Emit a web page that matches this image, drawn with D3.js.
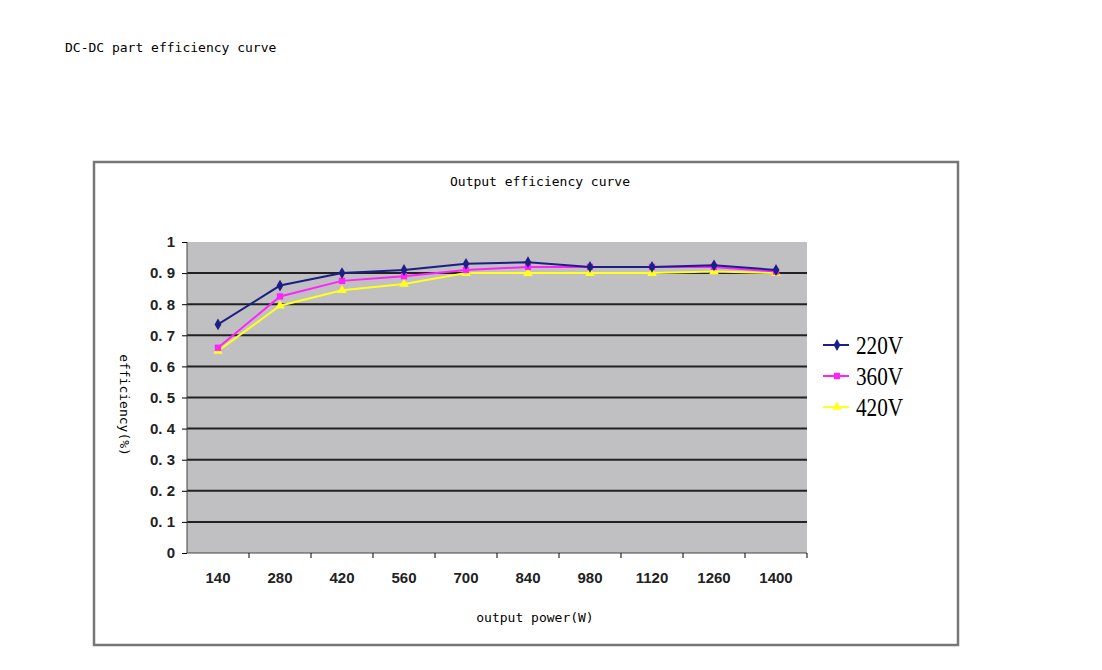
<!DOCTYPE html>
<html><head><meta charset="utf-8">
<script src="https://cdn.jsdelivr.net/npm/d3@7"></script>
<style>body{margin:0;background:#fff}</style>
</head><body>
<svg id="c" width="1102" height="670"></svg>
<script>
const powers = [140,280,420,560,700,840,980,1120,1260,1400];
const v220 = [0.735,0.86,0.9,0.91,0.93,0.935,0.92,0.92,0.925,0.91];
const v360 = [0.66,0.825,0.875,0.89,0.91,0.92,0.92,0.92,0.92,0.905];
const v420 = [0.65,0.795,0.845,0.865,0.9,0.9,0.9,0.9,0.905,0.9];
const yTicks = [0,0.1,0.2,0.3,0.4,0.5,0.6,0.7,0.8,0.9,1];

const svg = d3.select("#c");
const mono = "'DejaVu Sans Mono', monospace";

svg.append("text").attr("x",65).attr("y",52).attr("font-family",mono).attr("font-size",13).text("DC-DC part efficiency curve");

svg.append("rect").attr("x",94).attr("y",162).attr("width",864).attr("height",483)
  .attr("fill","#fff").attr("stroke","#777").attr("stroke-width",2.5);
svg.append("text").attr("x",540).attr("y",186).attr("text-anchor","middle").attr("font-family",mono).attr("font-size",13).text("Output efficiency curve");

const x = d3.scaleBand().domain(powers).range([187,807]);
const y = d3.scaleLinear().domain([0,1]).range([553,242]);

svg.append("rect").attr("x",187).attr("y",242).attr("width",620).attr("height",311).attr("fill","#c0bfc1");
svg.selectAll(".grid").data(yTicks.slice(1,-1)).join("line")
  .attr("x1",187).attr("x2",807).attr("y1",d=>y(d)).attr("y2",d=>y(d))
  .attr("stroke","#222").attr("stroke-width",2);
svg.append("line").attr("x1",187).attr("x2",187).attr("y1",242).attr("y2",553).attr("stroke","#444");
svg.append("line").attr("x1",187).attr("x2",807).attr("y1",553).attr("y2",553).attr("stroke","#444");

const ya = svg.append("g").attr("transform","translate(187,0)")
  .call(d3.axisLeft(y).tickValues(yTicks).tickFormat(d=>d===0||d===1?d:d3.format(".1f")(d).replace(".",". ")).tickSize(5));
ya.select(".domain").remove();
ya.selectAll("text").attr("font-family","'Liberation Sans', Arial").attr("font-weight","bold").attr("font-size",15).attr("fill","#222").attr("dx",-4);

const xa = svg.append("g").attr("transform","translate(0,553)")
  .call(d3.axisBottom(x).tickSize(5).tickSizeOuter(0));
xa.select(".domain").remove();
xa.selectAll("line").attr("transform",`translate(${x.bandwidth()/2},0)`);
xa.selectAll("text").attr("font-family","'Liberation Sans', Arial").attr("font-weight","bold").attr("font-size",15).attr("fill","#222").attr("dy",22);

svg.append("text").attr("x",535).attr("y",622).attr("text-anchor","middle").attr("font-family",mono).attr("font-size",13).text("output power(W)");
svg.append("text").attr("transform","translate(120,405) rotate(90)").attr("text-anchor","middle").attr("font-family",mono).attr("font-size",13).text("efficiency(%)");

const series = [
  {name:"220V", vals:v220, color:"#1b1f86", shape:d3.symbolDiamond},
  {name:"360V", vals:v360, color:"#ff22ff", shape:d3.symbolSquare},
  {name:"420V", vals:v420, color:"#ffff22", shape:d3.symbolTriangle}
];
const cx = d => x(d) + x.bandwidth()/2;
const line = d3.line().x((d,i)=>cx(powers[i])).y(d=>y(d));
[...series].reverse().forEach(s=>{
  svg.append("path").attr("d",line(s.vals)).attr("fill","none").attr("stroke",s.color).attr("stroke-width",2);
  svg.selectAll(null).data(s.vals).join("path")
    .attr("transform",(d,i)=>`translate(${cx(powers[i])},${y(d)})`)
    .attr("d",d3.symbol(s.shape,40)).attr("fill",s.color);
});

const lg = svg.selectAll(".lg").data(series).join("g").attr("transform",(d,i)=>`translate(823,${345+i*31})`);
lg.append("line").attr("x1",0).attr("x2",26).attr("stroke",d=>d.color).attr("stroke-width",2);
lg.append("path").attr("transform","translate(14,0)").attr("d",d=>d3.symbol(d.shape,40)()).attr("fill",d=>d.color);
lg.append("text").attr("transform","translate(33,9) scale(0.85,1)").attr("font-family","'Liberation Serif', serif").attr("font-size",25)
  .text(d=>d.name);
</script>
</body></html>
